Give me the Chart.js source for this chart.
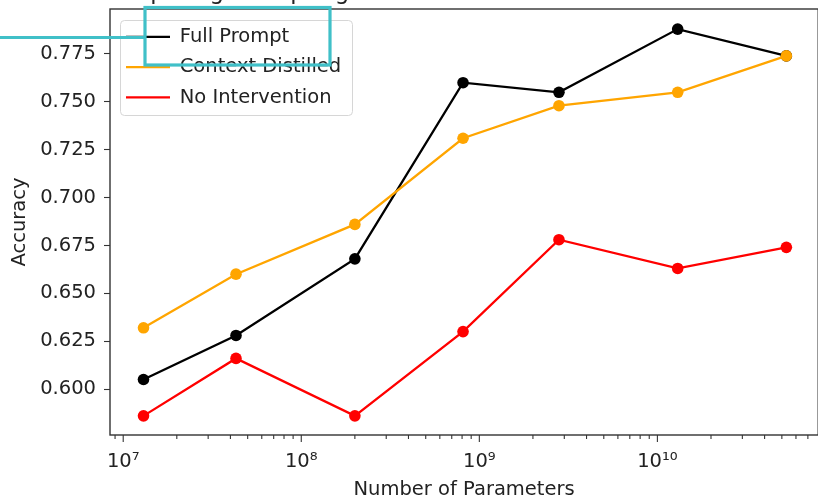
<!DOCTYPE html>
<html><head><meta charset="utf-8">
<script src="https://cdn.jsdelivr.net/npm/chart.js@4.4.1/dist/chart.umd.min.js"></script>
<style>
html,body{margin:0;padding:0;background:#fff;}
#wrap{position:relative;width:818px;height:502px;overflow:hidden;background:#fff;}
#c{position:absolute;left:0;top:-28px;}
</style></head><body>
<div id="wrap"><canvas id="c" width="824" height="530" style="width:824px;height:530px"></canvas></div>
<script>
const chartTitle = 'Comparing Prompting and Context Distillation on HHH';
const xAxisTitle = 'Number of Parameters';
const yAxisTitle = 'Accuracy';
const seriesNames = ['Full Prompt', 'Context Distilled', 'No Intervention'];
const seriesColors = ['#000000', '#FFA500', '#FF0000'];
const parameters = [1.3e7, 4.3e7, 2.0e8, 8.1e8, 2.8e9, 1.3e10, 5.3e10];
const fullPrompt = [0.605, 0.628, 0.668, 0.760, 0.755, 0.788, 0.774];
const contextDistilled = [0.632, 0.660, 0.686, 0.731, 0.748, 0.755, 0.774];
const noIntervention = [0.586, 0.616, 0.586, 0.630, 0.678, 0.663, 0.674];
const yTicks = [0.600, 0.625, 0.650, 0.675, 0.700, 0.725, 0.750, 0.775];
const xMajorTicks = [1e7, 1e8, 1e9, 1e10];
const xTickLabels = ['10\u2077', '10\u2078', '10\u2079', '10\u00B9\u2070'];
const xMinorMultipliers = [2, 3, 4, 5, 6, 7, 8, 9];
const xMin = 8.43e6, xMax = 8.0e10, yMin = 0.5760, yMax = 0.7985;

const xMinorTicks = [];
[1e6, 1e7, 1e8, 1e9, 1e10].forEach(d => xMinorMultipliers.forEach(m => {
  const v = m * d; if (v > xMin && v < xMax) xMinorTicks.push(v);
}));
const xAllTicks = xMajorTicks.concat(xMinorTicks).sort((a, b) => a - b);

Chart.defaults.font.family = "'DejaVu Sans'";
Chart.defaults.color = '#222';

const seriesValues = [fullPrompt, contextDistilled, noIntervention];
const datasets = seriesNames.map((name, i) => ({
  label: name,
  data: parameters.map((p, j) => ({x: p, y: seriesValues[i][j]})),
  borderColor: seriesColors[i],
  backgroundColor: seriesColors[i],
  pointBackgroundColor: seriesColors[i],
  pointBorderColor: seriesColors[i],
  pointBorderWidth: 0,
  pointRadius: 5.8,
  borderWidth: 2.3,
  tension: 0,
  fill: false,
  order: seriesNames.length - i
}));

const IMG_OFFSET_Y = 28;

const decorPlugin = {
  id: 'decor',
  afterLayout(chart) {
    const L = chart.legend; if (!L) return;
    const ca = chart.chartArea;
    const pad = L.options.labels.padding;
    const w = L.width, h = L.height;
    L.left = ca.left + 16 - pad;
    L.top = ca.top + 18.1 - pad;
    L.right = L.left + w;
    L.bottom = L.top + h;
  },
  beforeDraw(chart) {
    const ctx = chart.ctx, ca = chart.chartArea;
    ctx.save();
    ctx.fillStyle = '#fff';
    ctx.fillRect(0, 0, chart.width, chart.height);
    const fx = ca.left + 10.5, fy = ca.top + 11.5, fw = 232, fh = 95;
    ctx.beginPath();
    ctx.roundRect(fx, fy, fw, fh, 4);
    ctx.fillStyle = 'rgba(255,255,255,0.8)';
    ctx.fill();
    ctx.strokeStyle = '#d6d6d6';
    ctx.lineWidth = 1;
    ctx.stroke();
    ctx.restore();
  },
  afterDraw(chart) {
    const ctx = chart.ctx, ca = chart.chartArea, s = chart.scales.x;
    ctx.save();
    ctx.strokeStyle = '#333';
    ctx.lineWidth = 1.1;
    s.ticks.forEach(t => {
      const px = s.getPixelForValue(t.value);
      if (px < ca.left - 0.5 || px > ca.right + 0.5) return;
      const len = xMajorTicks.indexOf(t.value) >= 0 ? 7 : 4;
      ctx.beginPath();
      ctx.moveTo(px, ca.bottom);
      ctx.lineTo(px, ca.bottom + len);
      ctx.stroke();
    });
    ctx.lineWidth = 1.4;
    ctx.strokeStyle = '#333';
    ctx.strokeRect(ca.left, ca.top, ca.right - ca.left, ca.bottom - ca.top);
    ctx.strokeStyle = '#40C0C8';
    ctx.lineWidth = 3.2;
    ctx.strokeRect(145, 7.5 + IMG_OFFSET_Y, 185, 57.5);
    ctx.beginPath();
    ctx.moveTo(0, 37.5 + IMG_OFFSET_Y);
    ctx.lineTo(145, 37.5 + IMG_OFFSET_Y);
    ctx.stroke();
    ctx.restore();
  }
};

const baseGenerateLabels = Chart.defaults.plugins.legend.labels.generateLabels;

new Chart(document.getElementById('c'), {
  type: 'line',
  data: { datasets },
  options: {
    responsive: false,
    animation: false,
    devicePixelRatio: 1,
    events: [],
    layout: { padding: { left: 0, right: 4, top: 0, bottom: 0 } },
    plugins: {
      title: {
        display: true, text: chartTitle, color: '#222',
        font: { size: 23, weight: 'normal' },
        padding: { top: 7, bottom: 2.4 }
      },
      legend: {
        position: 'chartArea', align: 'start',
        labels: {
          usePointStyle: true, pointStyle: 'line', pointStyleWidth: 44,
          padding: 10.8, color: '#222', font: { size: 19.5 },
          sort: (a, b) => a.datasetIndex - b.datasetIndex,
          generateLabels: (chart) => baseGenerateLabels(chart).map(item => {
            const c = seriesColors[item.datasetIndex];
            item.lineWidth = 2.3; item.strokeStyle = c; item.fillStyle = c; item.pointStyle = 'line';
            return item;
          })
        }
      },
      tooltip: { enabled: false }
    },
    scales: {
      x: {
        type: 'logarithmic', min: xMin, max: xMax,
        afterBuildTicks: (scale) => { scale.ticks = xAllTicks.map(v => ({ value: v })); },
        afterFit: (scale) => { scale.height = 67; },
        ticks: {
          autoSkip: false, maxRotation: 0, minRotation: 0, padding: 8.5,
          color: '#222', font: { size: 19.5 },
          callback: (v) => { const i = xMajorTicks.indexOf(v); return i >= 0 ? xTickLabels[i] : ''; }
        },
        grid: { display: true, drawOnChartArea: false, drawTicks: true, tickLength: 7, tickColor: 'rgba(0,0,0,0)' },
        border: { display: false },
        title: { display: true, text: xAxisTitle, color: '#222', font: { size: 19.5 }, padding: { top: 0, bottom: 0 } }
      },
      y: {
        type: 'linear', min: yMin, max: yMax,
        afterBuildTicks: (scale) => { scale.ticks = yTicks.map(v => ({ value: v })); },
        afterFit: (scale) => { scale.width = 110; },
        ticks: {
          padding: 8, color: '#222', font: { size: 19.5 },
          callback: (v) => Number(v).toFixed(3)
        },
        grid: { display: true, drawOnChartArea: false, drawTicks: true, tickLength: 6, tickColor: '#333', tickWidth: 1.1 },
        border: { display: false },
        title: { display: true, text: yAxisTitle, color: '#222', font: { size: 19.5 }, padding: { top: 8, bottom: 0 } }
      }
    }
  },
  plugins: [decorPlugin]
});
</script>
</body></html>
